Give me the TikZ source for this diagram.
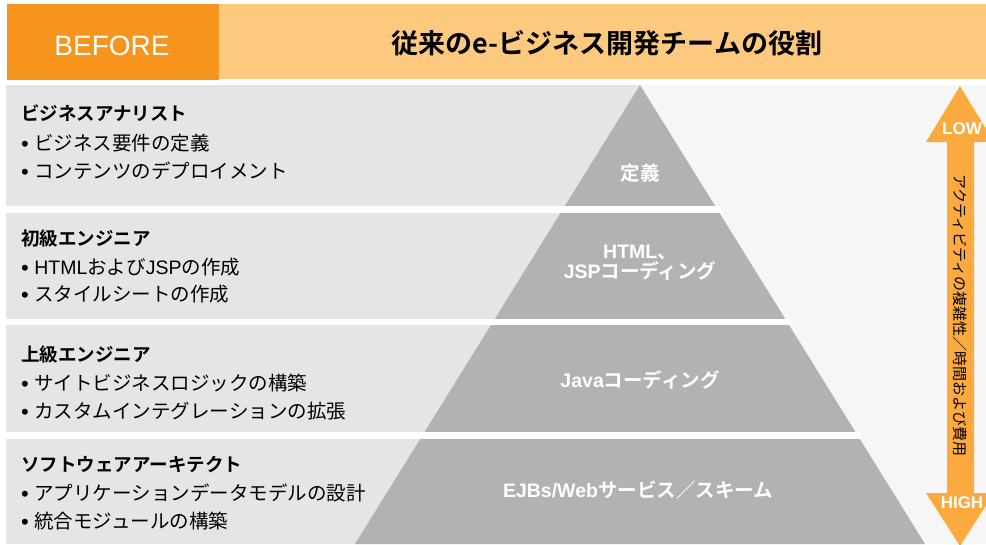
\documentclass[tikz,border=0pt]{standalone}
\usepackage{fontspec}
\setmainfont{Noto Sans CJK JP}[BoldFont={Noto Sans CJK JP Bold}]
\newfontfamily\lat{Liberation Sans}
\newcommand\myfs[1]{\fontsize{#1}{#1}\selectfont}
\newcommand\mybul{{\lat\myfs{22}\raisebox{-1pt}{•}}\hspace{5.5pt}}
\definecolor{orangeD}{RGB}{247,148,30}
\definecolor{orangeL}{RGB}{253,201,126}
\definecolor{bandgray}{RGB}{229,229,229}
\definecolor{bggray}{RGB}{246,246,246}
\definecolor{pyrgray}{RGB}{178,178,178}
\definecolor{arroworange}{RGB}{251,170,64}
\begin{document}
\begin{tikzpicture}[x=1pt,y=-1pt,
  rowhead/.style={anchor=base west, inner sep=0pt, font=\myfs{18.5}\bfseries},
  rowitem/.style={anchor=base west, inner sep=0pt, font=\myfs{19.5}},
  pyrlabel/.style={anchor=base, inner sep=0pt, text=white, font=\myfs{19.5}\bfseries},
  arrowlabel/.style={anchor=base, inner sep=0pt, text=white, font=\lat\myfs{17}\bfseries}]
\useasboundingbox (0,0) rectangle (986,544);
\fill[white] (0,0) rectangle (986,544);
% header
\fill[orangeD] (7,4) rectangle (219,80);
\fill[orangeL] (219,4) rectangle (986,79);
\node[anchor=base, inner sep=0pt, text=white, font=\lat\myfs{28}] (before) at (112,55) {BEFORE};
\node[anchor=base, inner sep=0pt, font=\myfs{27}\bfseries] (title) at (607,53) {従来のe-ビジネス開発チームの役割};
% backgrounds
\fill[bggray] (640,85) rectangle (986,544);
\fill[bandgray] (6,85) rectangle (640,205.5);
\fill[bandgray] (6,212.5) rectangle (640,318.5);
\fill[bandgray] (6,325) rectangle (640,432);
\fill[bandgray] (6,438.5) rectangle (640,544);
% pyramid
\fill[pyrgray] (640,85) -- (925,544) -- (355,544) -- cycle;
\fill[white] (6,205.5) rectangle (721,212.5);
\fill[white] (6,318.5) rectangle (791,325);
\fill[white] (6,432) rectangle (861,438.5);
% pyramid labels
\node[pyrlabel] (p1) at (640,180) {定義};
\node[pyrlabel] (p2a) at (640,258) {{\lat HTML}、};
\node[pyrlabel] (p2b) at (640,278) {{\lat JSP}コーディング};
\node[pyrlabel] (p3) at (640,387) {{\lat Java}コーディング};
\node[pyrlabel] (p4) at (638,497) {{\lat EJBs/Web}サービス／スキーム};
% row texts
\node[rowhead] (r1h) at (21,120) {ビジネスアナリスト};
\node[rowitem] (r1a) at (21,150) {\mybul ビジネス要件の定義};
\node[rowitem] (r1b) at (21,178) {\mybul コンテンツのデプロイメント};
\node[rowhead] (r2h) at (21,245) {初級エンジニア};
\node[rowitem] (r2a) at (21,274) {\mybul{\lat HTML}および{\lat JSP}の作成};
\node[rowitem] (r2b) at (21,301) {\mybul スタイルシートの作成};
\node[rowhead] (r3h) at (21,361) {上級エンジニア};
\node[rowitem] (r3a) at (21,390) {\mybul サイトビジネスロジックの構築};
\node[rowitem] (r3b) at (21,418) {\mybul カスタムインテグレーションの拡張};
\node[rowhead] (r4h) at (21,471) {ソフトウェアアーキテクト};
\node[rowitem] (r4a) at (21,500) {\mybul アプリケーションデータモデルの設計};
\node[rowitem] (r4b) at (21,528) {\mybul 統合モジュールの構築};
% double arrow
\fill[arroworange] (960,86) -- (994,142) -- (974,142) -- (974,493) -- (994,493)
  -- (960,546) -- (926,493) -- (947,493) -- (947,142) -- (926,142) -- cycle;
\node[arrowlabel] (low) at (962,134) {LOW};
\node[arrowlabel] (high) at (962,508) {HIGH};
\node[rotate=-90, inner sep=0pt, font=\myfs{15}] (axis) at (960,315.5) {アクティビティの複雑性／時間および費用};
\end{tikzpicture}
\end{document}
